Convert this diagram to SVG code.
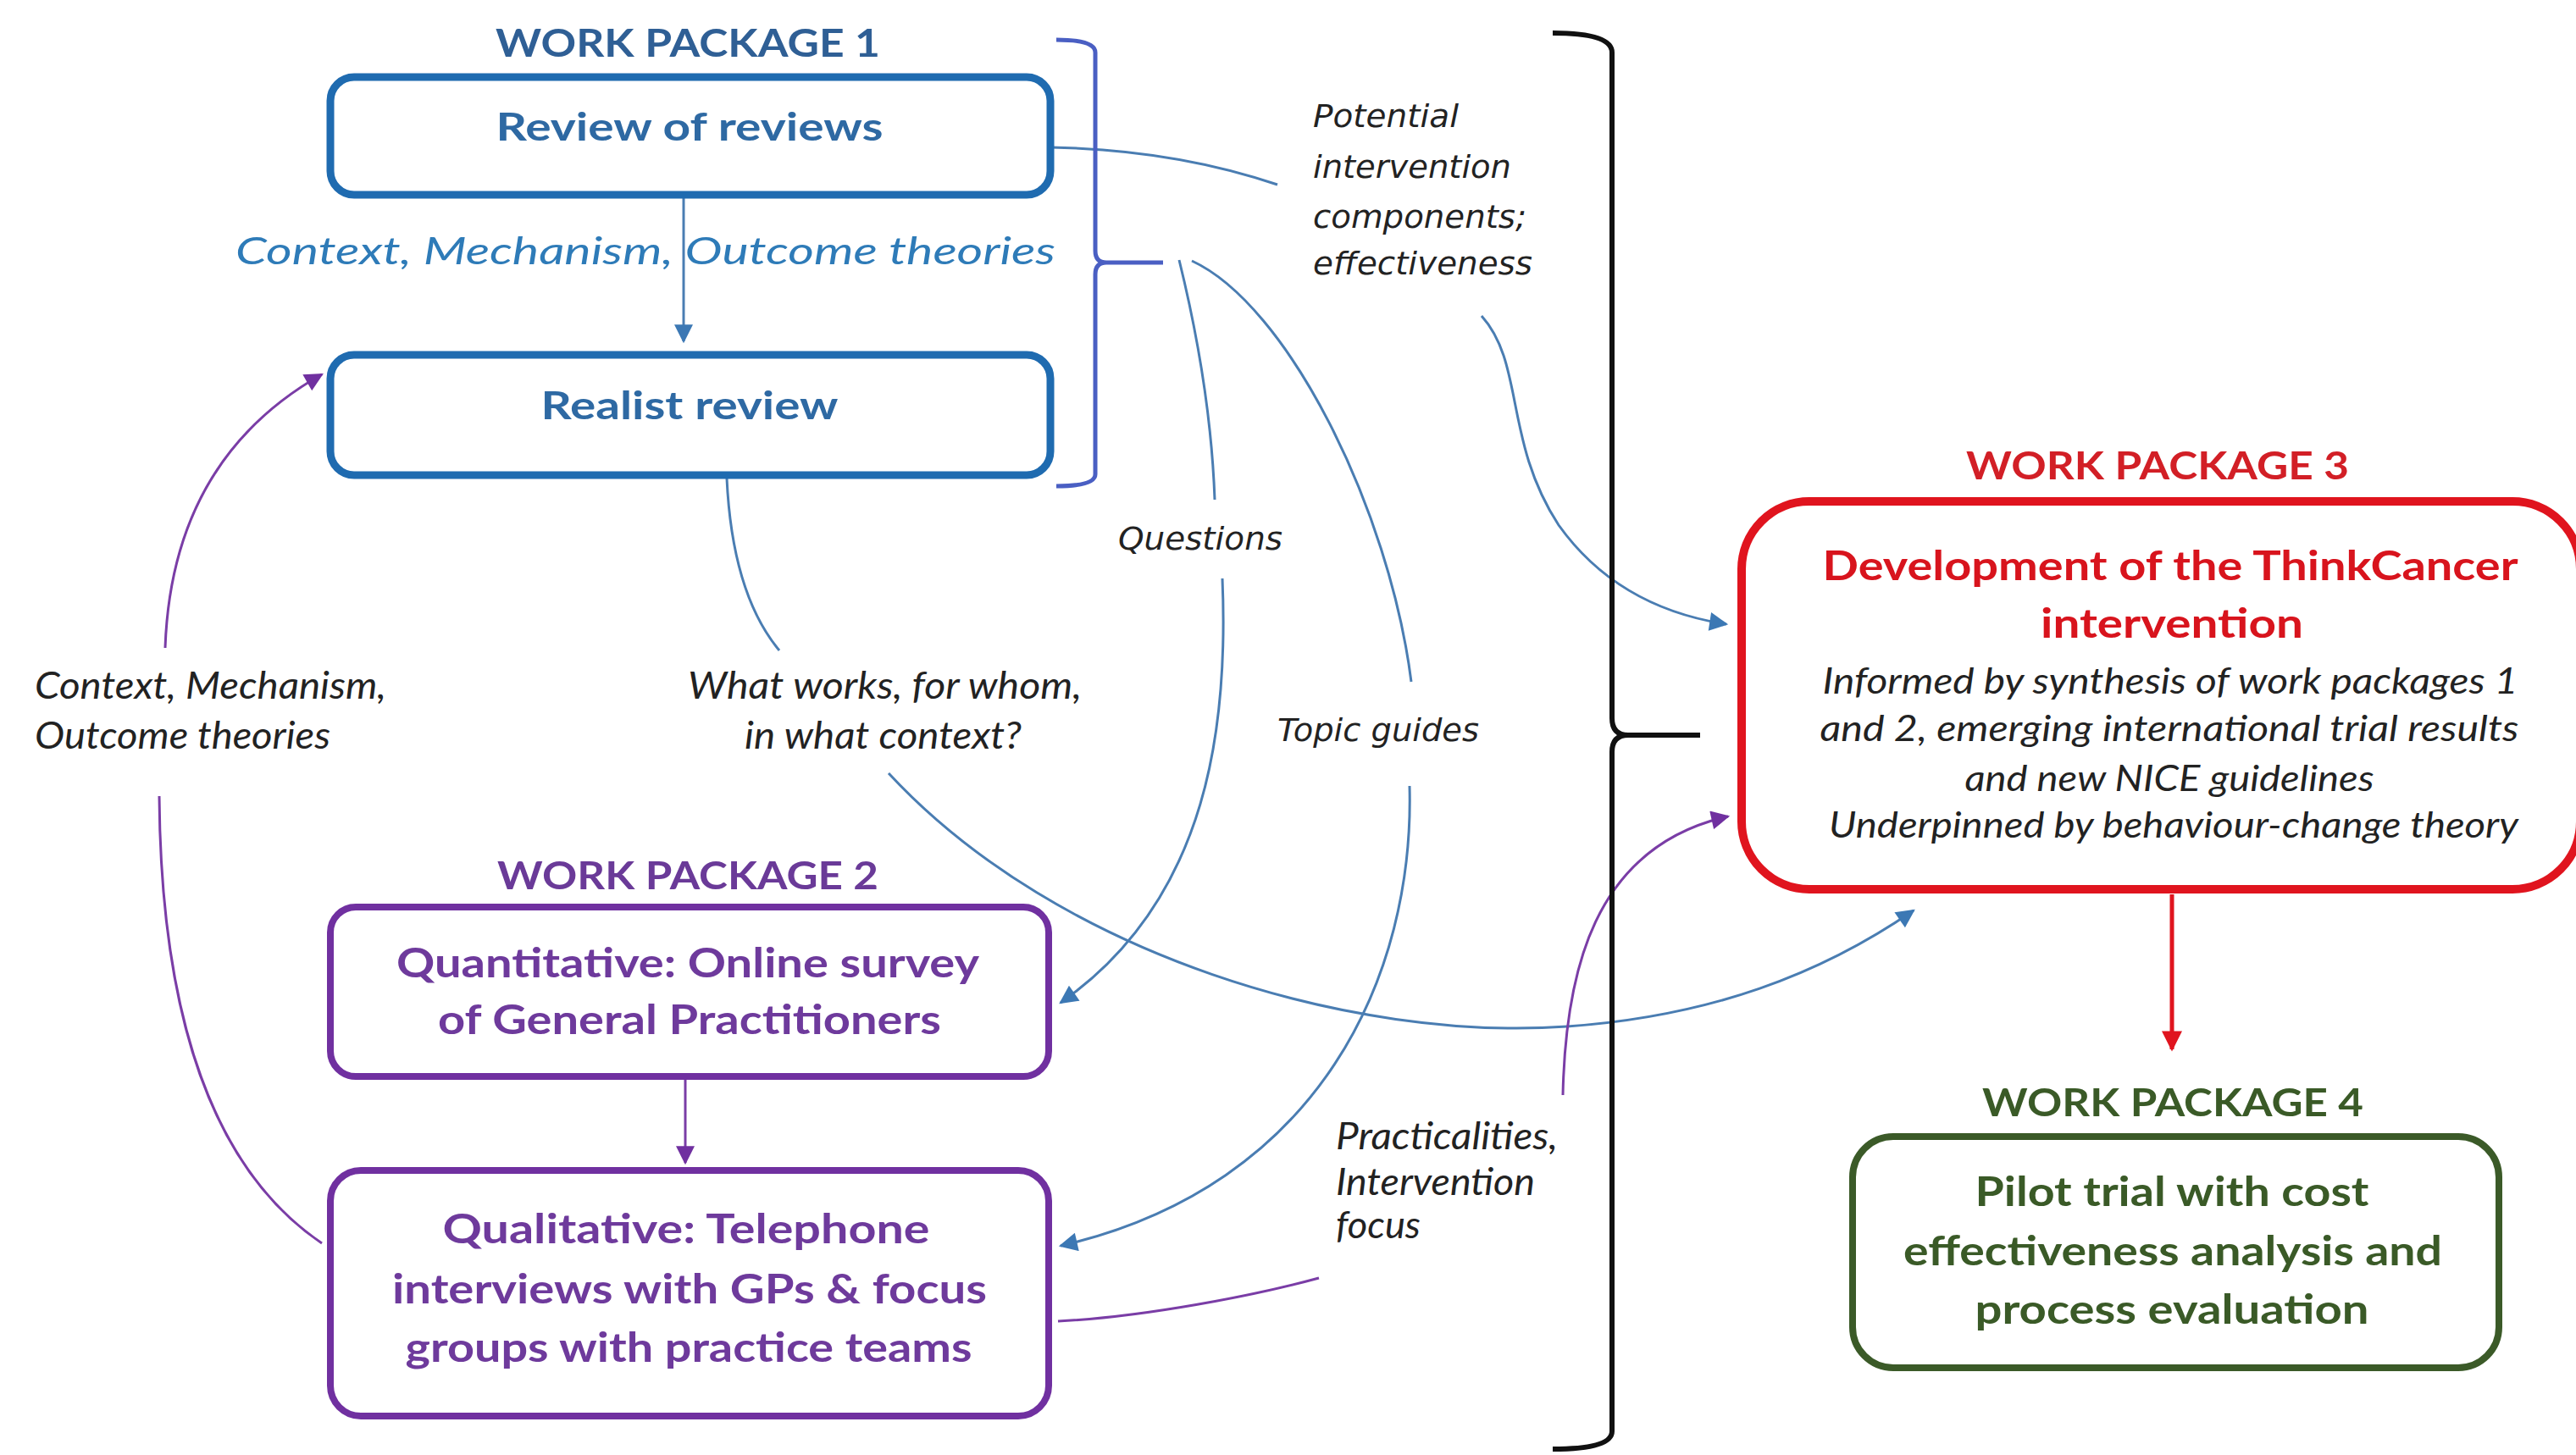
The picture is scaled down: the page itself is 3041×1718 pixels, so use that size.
<svg xmlns="http://www.w3.org/2000/svg" width="3041" height="1718" viewBox="0 0 3041 1718">
<style>
.t{font-family:Lato,"Liberation Sans",sans-serif;font-weight:bold;text-anchor:middle}
.ti{font-family:Lato,"Liberation Sans",sans-serif;font-style:italic}
.tv{font-family:"DejaVu Sans",Verdana,sans-serif;font-style:italic;font-size:38px;fill:#222}
.lab{font-size:45px}
.box{fill:#fff}
.c{fill:none;stroke-width:3}
.cb{stroke:#4A7DB2}
.cp{stroke:#7A3DA6}
</style>
<defs>
<marker id="ab" viewBox="0 0 10 10" refX="9" refY="5" markerWidth="26" markerHeight="22" markerUnits="userSpaceOnUse" orient="auto"><path d="M0,0 L10,5 L0,10 z" fill="#3C78B4"/></marker>
<marker id="ap" viewBox="0 0 10 10" refX="9" refY="5" markerWidth="26" markerHeight="22" markerUnits="userSpaceOnUse" orient="auto"><path d="M0,0 L10,5 L0,10 z" fill="#7030A0"/></marker>
<marker id="ar" viewBox="0 0 10 10" refX="9" refY="5" markerWidth="28" markerHeight="24" markerUnits="userSpaceOnUse" orient="auto"><path d="M0,0 L10,5 L0,10 z" fill="#E0141E"/></marker>
</defs>
<rect width="3041" height="1718" fill="#fff"/>

<g id="connectors">
<path class="c cb" d="M 807 231 L 807 403" marker-end="url(#ab)"/>
<path class="c cb" d="M 1241 174 C 1350 176, 1440 195, 1508 218"/>
<path class="c cb" d="M 1749 373 C 1800 430, 1775 520, 1840 620 C 1890 690, 1960 725, 2038 737" marker-end="url(#ab)"/>
<path class="c cb" d="M 1392 307 C 1410 380, 1430 480, 1434 590"/>
<path class="c cb" d="M 1443 683 C 1450 850, 1430 1060, 1252 1184" marker-end="url(#ab)"/>
<path class="c cb" d="M 1407 308 C 1520 360, 1640 600, 1666 805"/>
<path class="c cb" d="M 1664 928 C 1670 1150, 1560 1400, 1252 1471" marker-end="url(#ab)"/>
<path class="c cb" d="M 858 565 C 862 650, 880 720, 920 768"/>
<path class="c cb" d="M 1049 913 C 1250 1130, 1600 1230, 1850 1212 C 2020 1200, 2150 1150, 2259 1075" marker-end="url(#ab)"/>
<path class="c cp" d="M 380 1468 C 250 1380, 190 1200, 188 940"/>
<path class="c cp" d="M 195 765 C 200 620, 260 510, 380 442" marker-end="url(#ap)"/>
<path class="c cp" d="M 1249 1560 C 1350 1555, 1480 1530, 1557 1509"/>
<path class="c cp" d="M 1845 1293 C 1848 1150, 1880 1000, 2040 964" marker-end="url(#ap)"/>
<path class="c cp" d="M 809 1273 L 809 1373" marker-end="url(#ap)"/>
<path fill="none" stroke="#E0141E" stroke-width="5" d="M 2564 1056 L 2564 1239" marker-end="url(#ar)"/>
<path fill="none" stroke="#4A5FC3" stroke-width="5" d="M 1247 47 Q 1293 47 1293 62 L 1293 296 Q 1293 310 1306 310 L 1373 310 M 1306 310 Q 1293 310 1293 324 L 1293 560 Q 1293 574 1247 574"/>
<path fill="none" stroke="#111" stroke-width="6" d="M 1833 39 Q 1903 39 1903 62 L 1903 848 Q 1903 868 1922 868 L 2007 868 M 1922 868 Q 1903 868 1903 888 L 1903 1690 Q 1903 1711 1833 1711"/>
</g>

<g id="wp1-title"><text class="t" x="812" y="67" font-size="46" fill="#2F5F95" textLength="454" lengthAdjust="spacingAndGlyphs">WORK PACKAGE 1</text></g>
<g id="review-of-reviews">
<rect class="box" x="390" y="91" width="850" height="139" rx="28" stroke="#1F6BB0" stroke-width="9"/>
<text class="t" x="814" y="166" font-size="46" fill="#2E69A3" textLength="457" lengthAdjust="spacingAndGlyphs">Review of reviews</text>
</g>
<g id="cmo-label"><text class="ti" x="278" y="312" font-size="45" fill="#2E7BB8" textLength="968" lengthAdjust="spacingAndGlyphs">Context, Mechanism, Outcome theories</text></g>
<g id="realist-review">
<rect class="box" x="390" y="419" width="850" height="142" rx="28" stroke="#1F6BB0" stroke-width="9"/>
<text class="t" x="814" y="495" font-size="46" fill="#2E69A3" textLength="351" lengthAdjust="spacingAndGlyphs">Realist review</text>
</g>

<g id="label-potential">
<text class="tv" x="1550" y="150" textLength="172" lengthAdjust="spacingAndGlyphs">Potential</text>
<text class="tv" x="1550" y="210" textLength="234" lengthAdjust="spacingAndGlyphs">intervention</text>
<text class="tv" x="1550" y="269" textLength="252" lengthAdjust="spacingAndGlyphs">components;</text>
<text class="tv" x="1550" y="324" textLength="259" lengthAdjust="spacingAndGlyphs">effectiveness</text>
</g>
<g id="label-questions"><text class="tv" x="1320" y="649" textLength="194" lengthAdjust="spacingAndGlyphs">Questions</text></g>
<g id="label-topic"><text class="tv" x="1508" y="875" textLength="238" lengthAdjust="spacingAndGlyphs">Topic guides</text></g>
<g id="label-left">
<text class="ti lab" x="41" y="825" fill="#222" textLength="415" lengthAdjust="spacingAndGlyphs">Context, Mechanism,</text>
<text class="ti lab" x="41" y="884" fill="#222" textLength="349" lengthAdjust="spacingAndGlyphs">Outcome theories</text>
</g>
<g id="label-what">
<text class="ti lab" x="812" y="825" fill="#222" textLength="465" lengthAdjust="spacingAndGlyphs">What works, for whom,</text>
<text class="ti lab" x="879" y="884" fill="#222" textLength="327" lengthAdjust="spacingAndGlyphs">in what context?</text>
</g>
<g id="label-practicalities">
<text class="ti lab" x="1577" y="1357" fill="#222" textLength="262" lengthAdjust="spacingAndGlyphs">Practicalities,</text>
<text class="ti lab" x="1577" y="1411" fill="#222" textLength="235" lengthAdjust="spacingAndGlyphs">Intervention</text>
<text class="ti lab" x="1577" y="1462" fill="#222" textLength="100" lengthAdjust="spacingAndGlyphs">focus</text>
</g>

<g id="wp2-title"><text class="t" x="812" y="1050" font-size="46" fill="#6A3A98" textLength="450" lengthAdjust="spacingAndGlyphs">WORK PACKAGE 2</text></g>
<g id="quantitative">
<rect class="box" x="390" y="1071" width="848" height="200" rx="30" stroke="#7030A0" stroke-width="8"/>
<text class="t" x="812" y="1154" font-size="47" fill="#6E3A9C" textLength="688" lengthAdjust="spacingAndGlyphs">Quantitative: Online survey</text>
<text class="t" x="814" y="1221" font-size="47" fill="#6E3A9C" textLength="594" lengthAdjust="spacingAndGlyphs">of General Practitioners</text>
</g>
<g id="qualitative">
<rect class="box" x="390" y="1382" width="848" height="290" rx="36" stroke="#7030A0" stroke-width="8"/>
<text class="t" x="810" y="1468" font-size="47" fill="#6E3A9C" textLength="575" lengthAdjust="spacingAndGlyphs">Qualitative: Telephone</text>
<text class="t" x="814" y="1539" font-size="47" fill="#6E3A9C" textLength="702" lengthAdjust="spacingAndGlyphs">interviews with GPs &amp; focus</text>
<text class="t" x="813" y="1608" font-size="47" fill="#6E3A9C" textLength="669" lengthAdjust="spacingAndGlyphs">groups with practice teams</text>
</g>

<g id="wp3-title"><text class="t" x="2547" y="566" font-size="46" fill="#D21F26" textLength="452" lengthAdjust="spacingAndGlyphs">WORK PACKAGE 3</text></g>
<g id="development">
<rect class="box" x="2056" y="592" width="990" height="458" rx="80" stroke="#E0141E" stroke-width="10"/>
<text class="t" x="2562" y="685" font-size="47" fill="#D8141D" textLength="821" lengthAdjust="spacingAndGlyphs">Development of the ThinkCancer</text>
<text class="t" x="2564" y="753" font-size="47" fill="#D8141D" textLength="310" lengthAdjust="spacingAndGlyphs">intervention</text>
<text class="ti" x="2562" y="819" font-size="43" fill="#222" text-anchor="middle" textLength="821" lengthAdjust="spacingAndGlyphs">Informed by synthesis of work packages 1</text>
<text class="ti" x="2561" y="875" font-size="43" fill="#222" text-anchor="middle" textLength="825" lengthAdjust="spacingAndGlyphs">and 2, emerging international trial results</text>
<text class="ti" x="2561" y="934" font-size="43" fill="#222" text-anchor="middle" textLength="483" lengthAdjust="spacingAndGlyphs">and new NICE guidelines</text>
<text class="ti" x="2566" y="989" font-size="43" fill="#222" text-anchor="middle" textLength="814" lengthAdjust="spacingAndGlyphs">Underpinned by behaviour-change  theory</text>
</g>

<g id="wp4-title"><text class="t" x="2565" y="1318" font-size="46" fill="#3A5A27" textLength="450" lengthAdjust="spacingAndGlyphs">WORK PACKAGE 4</text></g>
<g id="pilot">
<rect class="box" x="2187" y="1342" width="763" height="273" rx="48" stroke="#3B5A28" stroke-width="8"/>
<text class="t" x="2564" y="1424" font-size="48" fill="#3A5A27" textLength="465" lengthAdjust="spacingAndGlyphs">Pilot trial with cost</text>
<text class="t" x="2565" y="1494" font-size="48" fill="#3A5A27" textLength="636" lengthAdjust="spacingAndGlyphs">effectiveness analysis and</text>
<text class="t" x="2564" y="1563" font-size="48" fill="#3A5A27" textLength="465" lengthAdjust="spacingAndGlyphs">process evaluation</text>
</g>
</svg>
